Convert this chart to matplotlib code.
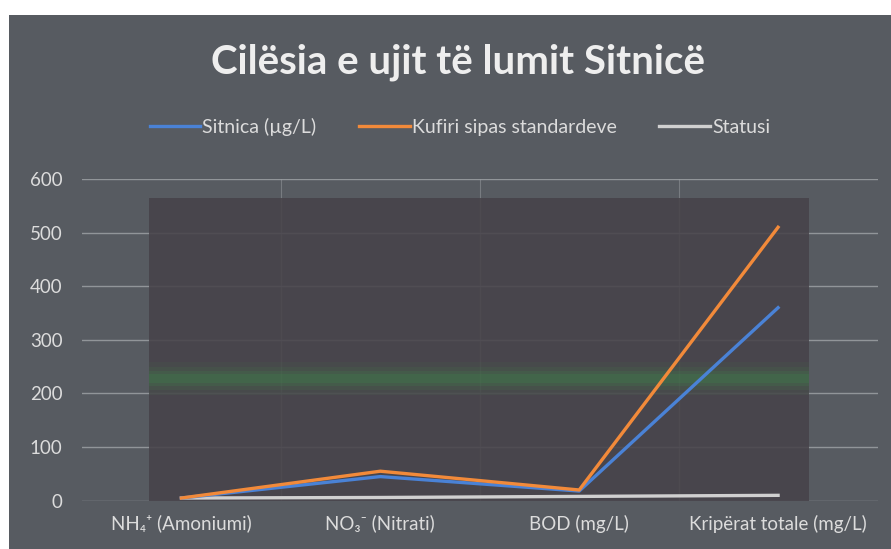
import matplotlib
matplotlib.use("Agg")
import matplotlib.pyplot as plt
from matplotlib.patches import Rectangle
from matplotlib.lines import Line2D

categories = ["NH₄⁺ (Amoniumi)", "NO₃⁻ (Nitrati)", "BOD (mg/L)", "Kripërat totale (mg/L)"]
sitnica = [5, 45, 18, 360]
kufiri = [5, 55, 20, 510]
statusi = [5, 6, 8, 10]
series_names = ["Sitnica (µg/L)", "Kufiri sipas standardeve", "Statusi"]
yticks = [0, 100, 200, 300, 400, 500, 600]

plt.rcParams['font.family'] = ['Lato', 'DejaVu Sans']

W, H = 891, 549
bg = '#575b61'
fig = plt.figure(figsize=(W / 100, H / 100), dpi=100)
fig.patch.set_facecolor(bg)
# white scan border (top and left)
fig.patches.append(Rectangle((0, 1 - 15 / H), 1, 15 / H, transform=fig.transFigure,
                             facecolor='white', edgecolor='none', zorder=0))
fig.patches.append(Rectangle((0, 0), 9 / W, 1, transform=fig.transFigure,
                             facecolor='white', edgecolor='none', zorder=0))

ax = fig.add_axes([82 / W, 1 - 500.7 / H, (877.5 - 82) / W, (500.7 - 179) / H])
ax.set_facecolor('none')
x = list(range(len(categories)))
ax.set_xlim(-0.5, len(categories) - 0.5)
ax.set_ylim(0, 600)

# gridlines
for yv in yticks:
    ax.axhline(yv, color='#b9bcc0', lw=1.0, alpha=0.6, zorder=1)
for xv in [0.5, 1.5, 2.5]:
    ax.axvline(xv, color='#9a9da2', lw=0.8, alpha=0.5, zorder=1)

# dark inner panel
x0 = (150 - 182) / 199.0
x1 = (810 - 182) / 199.0
ax.add_patch(Rectangle((x0, 0), x1 - x0, 565, facecolor='#47434a', edgecolor='none',
                       alpha=0.88, zorder=2))
# green glow band
for half, a in [(30, 0.08), (22, 0.12), (14, 0.18), (8, 0.22)]:
    ax.add_patch(Rectangle((x0, 228 - half), x1 - x0, 2 * half, facecolor='#3f8a4a',
                           edgecolor='none', alpha=a, zorder=2.5))

colors = ['#4a82d6', '#f28a3a', '#d0d0d0']
ax.plot(x, statusi, color=colors[2], lw=2.4, zorder=4)
ax.plot(x, sitnica, color=colors[0], lw=2.4, zorder=4)
ax.plot(x, kufiri, color=colors[1], lw=2.4, zorder=4)

ax.set_xticks(x)
ax.set_xticklabels(categories)
ax.set_yticks(yticks)
ax.tick_params(axis='both', length=0, colors='#dcdcdc', labelsize=13.5)
ax.tick_params(axis='x', pad=10)
ax.tick_params(axis='y', pad=14)
for s in ax.spines.values():
    s.set_visible(False)

fig.text(458 / W, 1 - 62 / H, "Cilësia e ujit të lumit Sitnicë", ha='center', va='center',
         fontsize=29, fontweight='bold', color='#eeeeee')

handles = [Line2D([], [], color=colors[i], lw=2.4) for i in range(3)]
fig.legend(handles, series_names, loc='center', bbox_to_anchor=(460 / W, 1 - 127 / H),
           ncol=3, frameon=False, fontsize=14, labelcolor='#dcdcdc', handlelength=2.6,
           handletextpad=0.1, columnspacing=2.2)

fig.savefig('out.png', dpi=100, facecolor=fig.get_facecolor())
